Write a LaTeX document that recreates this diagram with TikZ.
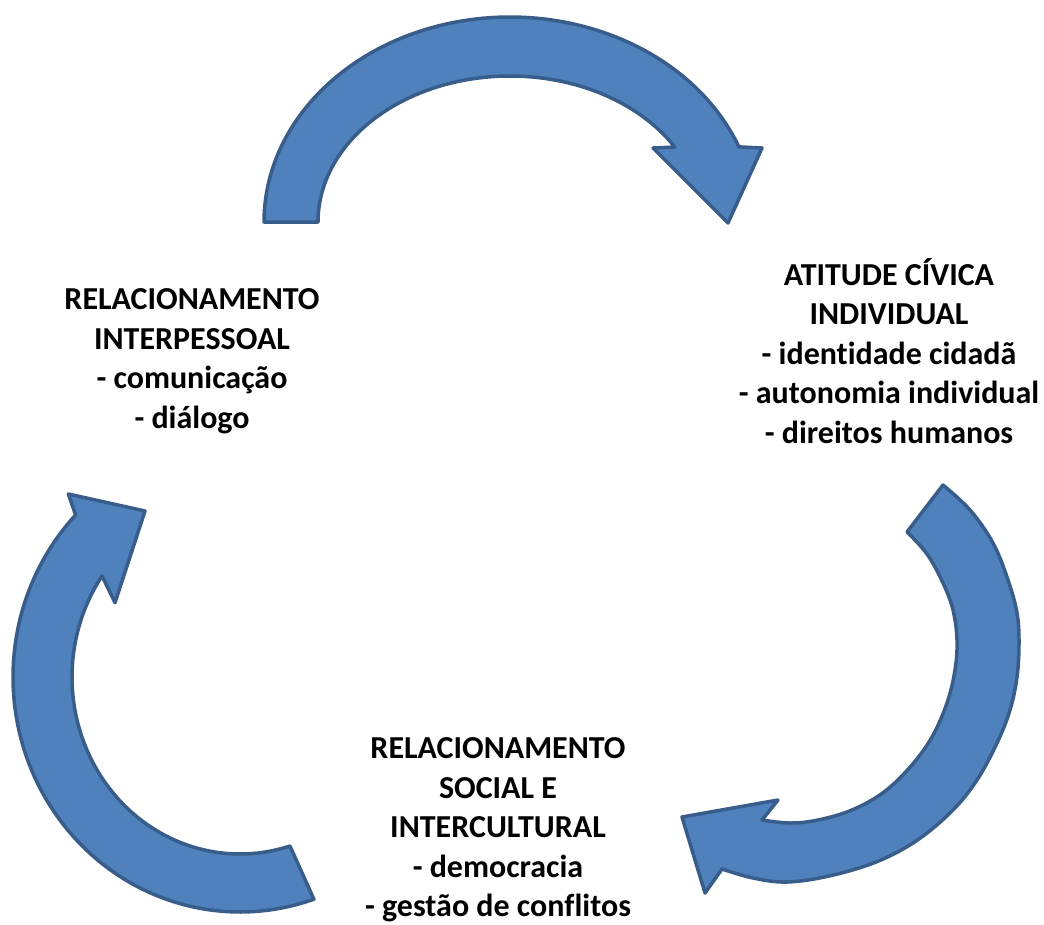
\documentclass[tikz,border=0pt]{standalone}
\usepackage{fontspec}
\setmainfont{Carlito}[Ligatures=NoCommon]
\definecolor{arrowfill}{HTML}{4F81BD}
\definecolor{arrowline}{HTML}{385D8A}
\begin{document}
\begin{tikzpicture}[x=1pt,y=-1pt,
  arrowshape/.style={fill=arrowfill, draw=arrowline, line width=3.5pt, line join=round},
  txt/.style={font=\bfseries\fontsize{32}{39.5}\selectfont, align=center, inner sep=0pt, text=black}]
\useasboundingbox (0,0) rectangle (1044,924);

% top arrow
\path[arrowshape]
  plot[domain=180:338.5, samples=90] ({510+246*cos(\x)},{222+205*sin(\x)})
  -- (762,148) -- (728,223) -- (653,148)
  -- plot[domain=329.1:180, samples=90] ({510+192*cos(\x)},{222+146*sin(\x)})
  -- cycle;

% right arrow
\path[arrowshape]
  plot[smooth, tension=0.6] coordinates {(943,485) (970,510) (993,543) (1008,580) (1017,613) (1019,643) (1017,677) (1010,710) (997,743) (977,780) (952,811) (916,841) (876,862) (829,876) (787,882) (753,878) (722,869)}
  -- (705,893) -- (682,817) -- (778,800)
  -- plot[smooth, tension=0.6] coordinates {(762,820) (790,823) (818,820) (852,810) (884,792) (911,766) (932,737) (947,703) (955,670) (957,640) (953,610) (943,583) (927,554) (907,532)}
  -- cycle;

% left arrow
\path[arrowshape]
  plot[domain=223.6:71, samples=90] ({240+227*cos(\x)},{677+235*sin(\x)})
  -- plot[domain=72.7:214.8, samples=90] ({240+168*cos(\x)},{677+177*sin(\x)})
  -- (115,602.7) -- (145,511) -- (68.3,494)
  -- cycle;

\node[txt] (interp) at (192,361) {RELACIONAMENTO\\INTERPESSOAL\\- comunicação\\- diálogo};
\node[txt] (civica) at (889,351) {ATITUDE CÍVICA\\INDIVIDUAL\\- identidade cidadã\\- autonomia individual\\- direitos humanos};
\node[txt] (social) at (498,830) {RELACIONAMENTO\\SOCIAL E\\INTERCULTURAL\\- democracia\\- gestão de conflitos};
\end{tikzpicture}
\end{document}
